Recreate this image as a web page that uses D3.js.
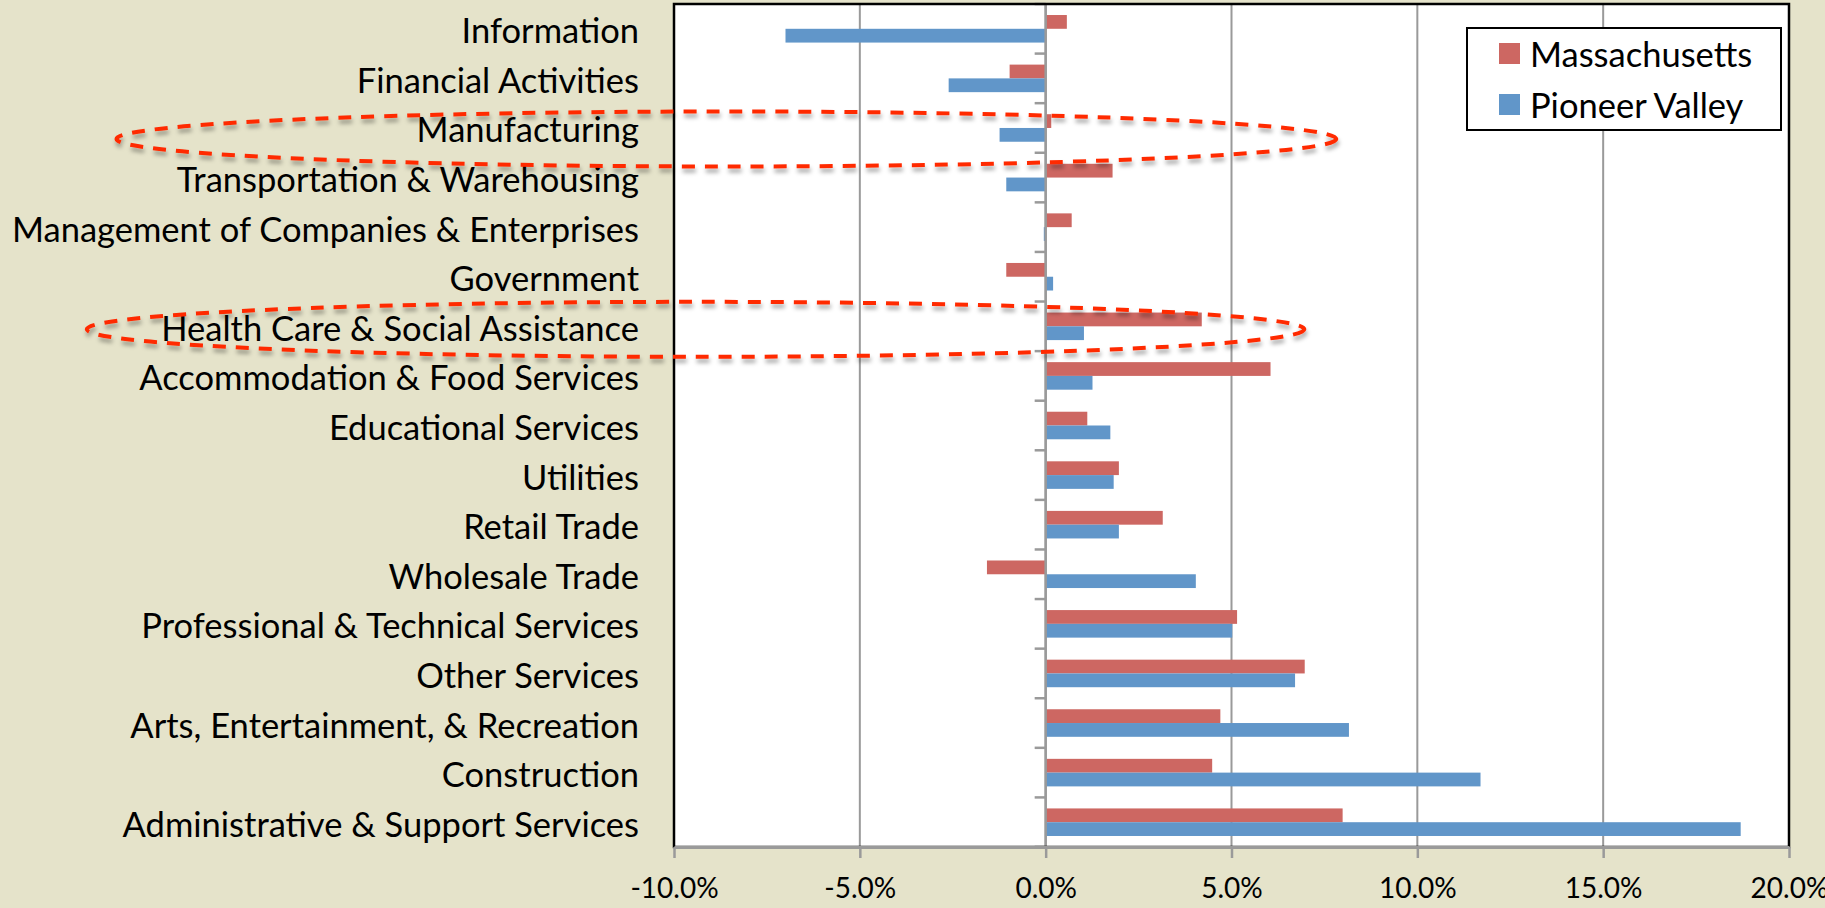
<!DOCTYPE html>
<html>
<head>
<meta charset="utf-8">
<script src="https://d3js.org/d3.v7.min.js"></script>
<style>
    body { margin: 0; background: #E5E3CA; overflow: hidden; }
    svg { display: block; }
    text { font-family: Lato, "Open Sans", sans-serif; fill: #000; }
</style>
</head>
<body>
<div id="chart"></div>
<script>

// categories, top to bottom
const industries = [
    "Information",
    "Financial Activities",
    "Manufacturing",
    "Transportation & Warehousing",
    "Management of Companies & Enterprises",
    "Government",
    "Health Care & Social Assistance",
    "Accommodation & Food Services",
    "Educational Services",
    "Utilities",
    "Retail Trade",
    "Wholesale Trade",
    "Professional & Technical Services",
    "Other Services",
    "Arts, Entertainment, & Recreation",
    "Construction",
    "Administrative & Support Services"
];

const seriesNames = ["Massachusetts", "Pioneer Valley"];

// percent change, same order as industries
const massachusetts = [0.57, -0.97, 0.15, 1.80, 0.70, -1.06, 4.20, 6.05, 1.12, 1.97, 3.15, -1.58, 5.15, 6.97, 4.70, 4.48, 7.99];
const pioneerValley = [-7.00, -2.61, -1.24, -1.06, -0.05, 0.20, 1.03, 1.26, 1.74, 1.83, 1.97, 4.04, 5.02, 6.71, 8.16, 11.70, 18.70];

const xTicks = [-10, -5, 0, 5, 10, 15, 20];

// rows ringed in red, with the x extent of each ring (in % units)
const ringedRows = ["Manufacturing", "Health Care & Social Assistance"];
const ringLeft = [-25.0, -25.8];
const ringRight = [7.82, 6.96];


class BarVis {
    constructor(parentElement) {
        this.parentElement = parentElement;
        this.initVis();
    }

    initVis() {
        let vis = this;

        vis.width = 1825;
        vis.height = 908;
        vis.plot = {left: 674, right: 1789, top: 4, bottom: 847};

        vis.svg = d3.select(vis.parentElement)
            .append("svg")
            .attr("width", vis.width)
            .attr("height", vis.height);

        vis.svg.append("rect")
            .attr("width", vis.width)
            .attr("height", vis.height)
            .attr("fill", "#E5E3CA");

        // drop shadow for the dashed rings
        let filter = vis.svg.append("defs").append("filter")
            .attr("id", "shadow")
            .attr("x", "-5%").attr("y", "-50%")
            .attr("width", "110%").attr("height", "200%");
        filter.append("feDropShadow")
            .attr("dx", 1).attr("dy", 4)
            .attr("stdDeviation", 2)
            .attr("flood-color", "#000")
            .attr("flood-opacity", 0.35);

        // scales
        vis.x = d3.scaleLinear()
            .domain([xTicks[0], xTicks[xTicks.length - 1]])
            .range([vis.plot.left, vis.plot.right]);

        vis.y = d3.scaleBand()
            .domain(industries)
            .range([vis.plot.top, vis.plot.bottom]);

        vis.ySub = d3.scaleBand()
            .domain(seriesNames)
            .range([0, vis.y.bandwidth()])
            .paddingOuter(0.8);

        vis.color = d3.scaleOrdinal()
            .domain(seriesNames)
            .range(["#CD6762", "#6196C9"]);

        // plot background
        vis.svg.append("rect")
            .attr("x", vis.plot.left)
            .attr("y", vis.plot.top)
            .attr("width", vis.plot.right - vis.plot.left)
            .attr("height", vis.plot.bottom - vis.plot.top)
            .attr("fill", "#fff");

        // vertical gridlines
        vis.svg.append("g")
            .selectAll("line")
            .data(xTicks.slice(1, -1))
            .enter()
            .append("line")
            .attr("x1", d => vis.x(d))
            .attr("x2", d => vis.x(d))
            .attr("y1", vis.plot.top)
            .attr("y2", vis.plot.bottom)
            .attr("stroke", "#9A9A9A")
            .attr("stroke-width", 2);

        // bars
        vis.data = industries.map((d, i) => ({
            industry: d,
            values: [
                {name: seriesNames[0], value: massachusetts[i]},
                {name: seriesNames[1], value: pioneerValley[i]}
            ]
        }));

        vis.svg.append("g")
            .selectAll("g")
            .data(vis.data)
            .enter()
            .append("g")
            .attr("transform", d => "translate(0," + vis.y(d.industry) + ")")
            .selectAll("rect")
            .data(d => d.values)
            .enter()
            .append("rect")
            .attr("x", d => vis.x(Math.min(0, d.value)))
            .attr("y", d => vis.ySub(d.name))
            .attr("width", d => Math.abs(vis.x(d.value) - vis.x(0)))
            .attr("height", vis.ySub.bandwidth())
            .attr("fill", d => vis.color(d.name));

        // category axis at zero, ticks between rows
        let yBounds = industries.map(d => vis.y(d)).concat([vis.plot.bottom]);
        let zeroAxis = vis.svg.append("g");
        zeroAxis.selectAll("line")
            .data(yBounds)
            .enter()
            .append("line")
            .attr("x1", vis.x(0) - 11)
            .attr("x2", vis.x(0))
            .attr("y1", d => d)
            .attr("y2", d => d)
            .attr("stroke", "#9A9A9A")
            .attr("stroke-width", 2.5);
        zeroAxis.append("line")
            .attr("x1", vis.x(0))
            .attr("x2", vis.x(0))
            .attr("y1", vis.plot.top)
            .attr("y2", vis.plot.bottom)
            .attr("stroke", "#9A9A9A")
            .attr("stroke-width", 2.5);

        // plot border
        vis.svg.append("rect")
            .attr("x", vis.plot.left)
            .attr("y", vis.plot.top)
            .attr("width", vis.plot.right - vis.plot.left)
            .attr("height", vis.plot.bottom - vis.plot.top)
            .attr("fill", "none")
            .attr("stroke", "#000")
            .attr("stroke-width", 2.5);

        // x axis
        vis.xAxis = vis.svg.append("g")
            .attr("class", "axis x-axis")
            .attr("transform", "translate(0," + vis.plot.bottom + ")")
            .call(d3.axisBottom(vis.x)
                .tickValues(xTicks)
                .tickFormat(d => d.toFixed(1) + "%")
                .tickSize(11)
                .tickSizeOuter(0)
                .tickPadding(20));
        vis.xAxis.select(".domain")
            .attr("stroke", "#9A9A9A")
            .attr("stroke-width", 3);
        vis.xAxis.selectAll(".tick line")
            .attr("stroke", "#9A9A9A")
            .attr("stroke-width", 2.5);
        vis.xAxis.selectAll(".tick text")
            .style("font-size", "28px")
            .attr("fill", "#000");

        // category labels
        vis.svg.append("g")
            .selectAll("text")
            .data(industries)
            .enter()
            .append("text")
            .attr("x", 639)
            .attr("y", d => vis.y(d) + vis.y.bandwidth() / 2 + 14.5)
            .attr("text-anchor", "end")
            .style("font-size", "34.5px")
            .text(d => d);

        // legend
        let legend = vis.svg.append("g");
        legend.append("rect")
            .attr("x", 1467)
            .attr("y", 28)
            .attr("width", 314)
            .attr("height", 102)
            .attr("fill", "#fff")
            .attr("stroke", "#000")
            .attr("stroke-width", 2);
        let items = legend.selectAll("g")
            .data(seriesNames)
            .enter()
            .append("g")
            .attr("transform", (d, i) => "translate(1499," + (43 + i * 51) + ")");
        items.append("rect")
            .attr("width", 21)
            .attr("height", 21)
            .attr("fill", d => vis.color(d));
        items.append("text")
            .attr("x", 31)
            .attr("y", 24)
            .style("font-size", "34.5px")
            .text(d => d);

        // dashed red rings around the highlighted rows
        vis.svg.append("g")
            .selectAll("ellipse")
            .data(ringedRows)
            .enter()
            .append("ellipse")
            .attr("cx", (d, i) => (vis.x(ringLeft[i]) + vis.x(ringRight[i])) / 2)
            .attr("cy", (d, i) => vis.y(d) + vis.y.bandwidth() / 2 + (i === 0 ? 11 : 3))
            .attr("rx", (d, i) => (vis.x(ringRight[i]) - vis.x(ringLeft[i])) / 2)
            .attr("ry", 27.5)
            .attr("fill", "none")
            .attr("stroke", "#FF2A00")
            .attr("stroke-width", 4)
            .attr("stroke-dasharray", "13,10")
            .attr("filter", "url(#shadow)");
    }
}

new BarVis("#chart");

</script>
</body>
</html>
